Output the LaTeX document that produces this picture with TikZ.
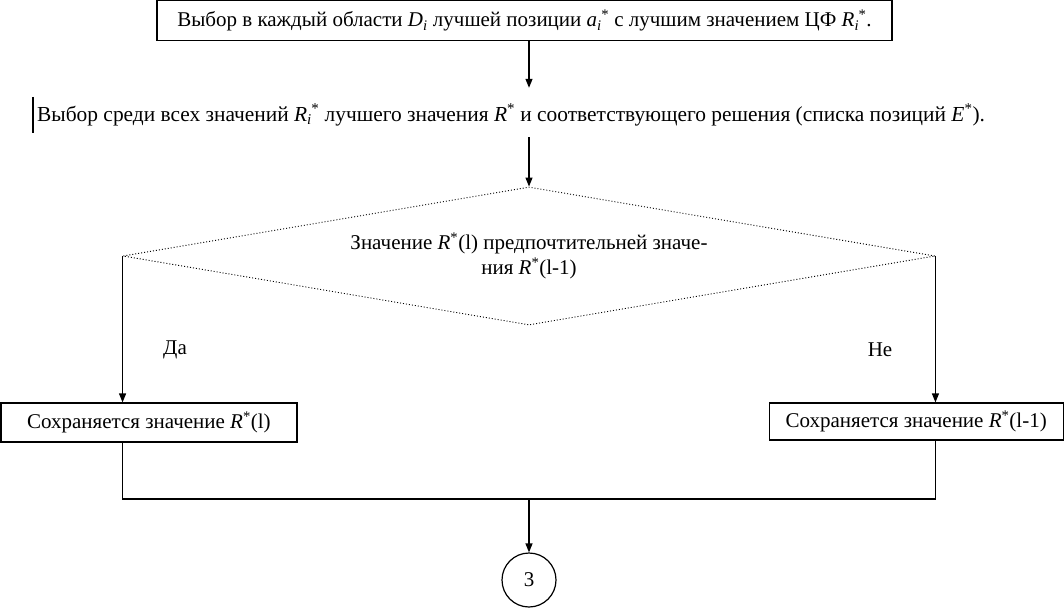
\documentclass[tikz,border=0pt]{standalone}
\usepackage{fontspec}
\setmainfont{Liberation Serif}
\usetikzlibrary{arrows.meta,shapes.geometric}
\newcommand\SubSup[3]{\textit{#1}\textsubscript{\textit{#2}}\kern-0.5pt\textsuperscript{#3}}
\newcommand\SubOnly[2]{\textit{#1}\textsubscript{\textit{#2}}}
\newcommand\SupOnly[2]{\textit{#1}\textsuperscript{#2}}
\begin{document}
\begin{tikzpicture}[x=1pt,y=-1pt,
  every node/.style={font=\fontsize{21}{25}\selectfont},
  ln/.style={line width=1.2pt, draw=black},
  arr/.style={ln, -{Triangle[length=9pt,width=7pt]}},
  boxn/.style={draw=black, line width=1.2pt, inner sep=0pt},
]
\useasboundingbox (0,0) rectangle (1064,609);
\coordinate (cx) at (529,0);
% top box
\node[boxn, minimum width=735pt, minimum height=40pt] (t) at (524.5,20.6)
  {Выбор в каждый области \SubOnly{D}{i} лучшей позиции \SubSup{a}{i}{*} с лучшим значением ЦФ \SubSup{R}{i}{*}.};
% second step
\node[anchor=west, inner xsep=4pt, inner ysep=0pt, minimum height=36pt,
  font=\fontsize{21.4}{25}\selectfont] (s) at (33,115)
  {Выбор среди всех значений \SubSup{R}{i}{*} лучшего значения \SupOnly{R}{*} и соответствующего решения (списка позиций \SupOnly{E}{*}).};
\draw[ln] (s.north west) -- (s.south west);
% diamond
\node[diamond, draw=black, line width=0.9pt, dash pattern=on 1pt off 2pt,
  minimum width=812pt, minimum height=138pt, inner sep=0pt] (d) at (529,256) {};
\node[align=center, inner sep=0pt] (dt) at (529,256)
  {Значение \SupOnly{R}{*}(l) предпочтительней значе-\\ния \SupOnly{R}{*}(l-1)};
% boxes
\node[boxn, minimum width=296pt, minimum height=39pt] (lb) at (148.9,422.5)
  {Сохраняется значение \SupOnly{R}{*}(l)};
\node[boxn, minimum width=294pt, minimum height=37pt] (rb) at (916.2,421.5)
  {Сохраняется значение \SupOnly{R}{*}(l-1)};
% labels
\node (da) at (175,350) {Да};
\node (ne) at (880,350) {Не};
% circle
\node[circle, draw=black, line width=1.2pt, minimum size=54pt, inner sep=0pt] (c) at (529,580) {3};
\coordinate (j) at (529,499);
% connectors
\draw[arr] (t.south -| cx) -- ([yshift=9pt]s.north -| cx);
\draw[arr] ([yshift=-4pt]s.south -| cx) -- (d.north);
\draw[arr] (d.west) -- (d.west |- lb.north);
\draw[arr] (d.east) -- (d.east |- rb.north);
\draw[ln] (lb.south -| d.west) |- (j) -| (rb.south -| d.east);
\draw[arr] (j) -- (c.north);
\end{tikzpicture}
\end{document}
